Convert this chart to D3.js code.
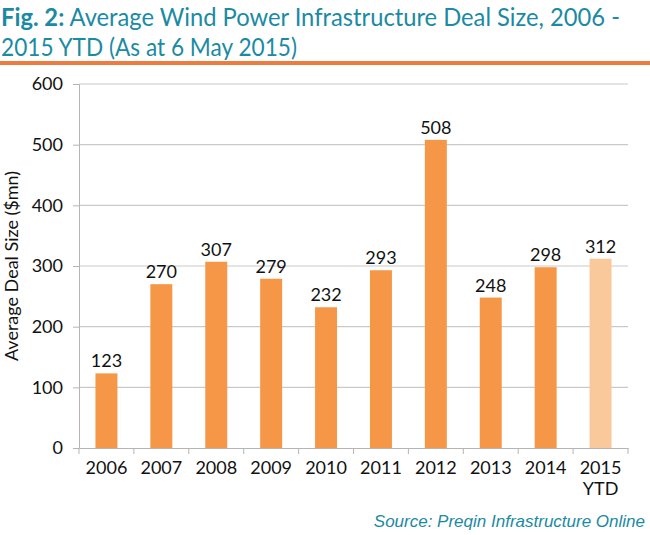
<!DOCTYPE html>
<html>
<head>
<meta charset="utf-8">
<script src="https://cdn.jsdelivr.net/npm/d3@7"></script>
<style>
  body { margin: 0; background: #fff; }
  svg { display: block; }
</style>
</head>
<body>
<svg width="650" height="535"></svg>
<script>
// chart data
const years = ['2006', '2007', '2008', '2009', '2010', '2011', '2012', '2013', '2014', '2015 YTD'];
const dealSize = [123, 270, 307, 279, 232, 293, 508, 248, 298, 312];
const yTicks = [0, 100, 200, 300, 400, 500, 600];

const font = 'Lato, "Noto Sans", sans-serif';
const teal = '#1b8aa3';

const svg = d3.select('svg');
const margin = { top: 84, right: 22, bottom: 87, left: 79 };
const width = 650 - margin.left - margin.right;
const height = 535 - margin.top - margin.bottom;

// title
const title = svg.append('text')
    .attr('x', 1)
    .attr('y', 26)
    .attr('fill', teal)
    .attr('textLength', 619)
    .attr('lengthAdjust', 'spacingAndGlyphs')
    .style('font-family', font)
    .style('font-size', '24.5px');
title.append('tspan').attr('font-weight', 'bold').text('Fig. 2:');
title.append('tspan').text(' Average Wind Power Infrastructure Deal Size, 2006 -');
svg.append('text')
    .attr('x', 1)
    .attr('y', 56)
    .attr('fill', teal)
    .attr('textLength', 296)
    .attr('lengthAdjust', 'spacingAndGlyphs')
    .style('font-family', font)
    .style('font-size', '24.5px')
    .text('2015 YTD (As at 6 May 2015)');

svg.append('rect')
    .attr('x', 0).attr('y', 61)
    .attr('width', 650).attr('height', 4)
    .attr('fill', '#ec7c3f');

const g = svg.append('g')
    .attr('transform', `translate(${margin.left},${margin.top})`);

const x = d3.scaleBand()
    .domain(years)
    .range([0, width])
    .paddingInner(0.6)
    .paddingOuter(0.3);

const y = d3.scaleLinear()
    .domain([0, 600])
    .range([height, 0]);

// gridlines
g.append('g')
    .selectAll('line')
    .data(yTicks.filter(d => d > 0))
    .enter().append('line')
    .attr('x1', 0).attr('x2', width)
    .attr('y1', d => y(d)).attr('y2', d => y(d))
    .attr('stroke', '#c9c9c9')
    .attr('stroke-width', 1.2);

// bars
g.selectAll('.bar')
    .data(dealSize)
    .enter().append('rect')
    .attr('class', 'bar')
    .attr('x', (d, i) => x(years[i]))
    .attr('y', d => y(d))
    .attr('width', x.bandwidth())
    .attr('height', d => height - y(d))
    .attr('fill', (d, i) => i === years.length - 1 ? '#f9c89b' : '#f59746');

// value labels
g.selectAll('.val')
    .data(dealSize)
    .enter().append('text')
    .attr('class', 'val')
    .attr('x', (d, i) => x(years[i]) + x.bandwidth() / 2)
    .attr('y', d => y(d) - 6)
    .attr('text-anchor', 'middle')
    .style('font-family', font)
    .style('font-size', '18px')
    .attr('fill', '#111')
    .text(d => d);

// y axis
const yAxis = g.append('g')
    .call(d3.axisLeft(y).tickValues(yTicks).tickSize(6).tickPadding(10));
yAxis.select('.domain').attr('stroke', '#b5b5b5');
yAxis.selectAll('.tick line').attr('stroke', '#b5b5b5');
yAxis.selectAll('text')
    .style('font-family', font)
    .style('font-size', '18px')
    .attr('fill', '#111');

// x axis
const xAxis = g.append('g')
    .attr('transform', `translate(0,${height})`)
    .call(d3.axisBottom(x).tickSize(0).tickPadding(13));
xAxis.select('.domain').attr('stroke', '#b5b5b5');
xAxis.selectAll('text')
    .style('font-family', font)
    .style('font-size', '18px')
    .attr('fill', '#111')
    .each(function (d) {
        const parts = d.split(' ');
        const t = d3.select(this).text(null);
        parts.forEach((p, i) => {
            t.append('tspan')
                .attr('x', 0)
                .attr('dy', i === 0 ? '0.71em' : '1.2em')
                .text(p);
        });
    });

// tick marks between categories on x axis
g.append('g')
    .selectAll('line')
    .data(d3.range(years.length + 1))
    .enter().append('line')
    .attr('x1', i => i * width / years.length)
    .attr('x2', i => i * width / years.length)
    .attr('y1', height).attr('y2', height + 6)
    .attr('stroke', '#b5b5b5');

// y axis label
svg.append('text')
    .attr('transform', `translate(18,${margin.top + height / 2}) rotate(-90)`)
    .attr('text-anchor', 'middle')
    .style('font-family', font)
    .style('font-size', '18px')
    .attr('fill', '#111')
    .text('Average Deal Size ($mn)');

// source
svg.append('text')
    .attr('x', 645)
    .attr('y', 527)
    .attr('text-anchor', 'end')
    .style('font-family', '"Liberation Sans", Arial, sans-serif')
    .style('font-style', 'italic')
    .style('font-size', '17px')
    .attr('fill', teal)
    .text('Source: Preqin Infrastructure Online');
</script>
</body>
</html>
